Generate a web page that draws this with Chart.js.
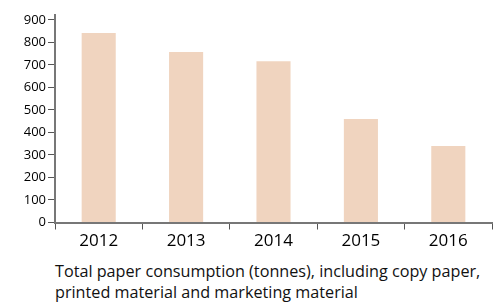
<!DOCTYPE html>
<html>
<head>
<meta charset="utf-8">
<script src="https://cdn.jsdelivr.net/npm/chart.js@4/dist/chart.umd.min.js"></script>
<style>
  body { margin: 0; background: #fff; }
  #wrap { position: relative; width: 494px; height: 304px; overflow: hidden; }
  #caption {
    position: absolute; left: 55px; top: 261px;
    font-family: "Open Sans", sans-serif; font-size: 16.2px; line-height: 21px; color: #111;
    white-space: nowrap;
  }
</style>
</head>
<body>
<div id="wrap">
  <canvas id="paperChart" width="494" height="252"></canvas>
  <div id="caption">Total paper consumption (tonnes), including copy paper,<br>printed material and marketing material</div>
</div>
<script>
const years = ['2012', '2013', '2014', '2015', '2016'];
const tonnes = [842, 758, 716, 460, 340];
const yTicks = [0, 100, 200, 300, 400, 500, 600, 700, 800, 900];

const ctx = document.getElementById('paperChart').getContext('2d');
const paperChart = new Chart(ctx, {
    type: 'bar',
    data: {
        labels: years,
        datasets: [{
            data: tonnes,
            backgroundColor: '#f0d4bf',
            categoryPercentage: 1,
            barPercentage: 0.39
        }]
    },
    options: {
        responsive: false,
        animation: false,
        layout: { padding: { top: 15, right: 2, left: 0, bottom: 0 } },
        plugins: { legend: { display: false }, tooltip: { enabled: false } },
        scales: {
            x: {
                grid: { drawOnChartArea: false, tickLength: 7, color: '#555', lineWidth: 1 },
                border: { color: '#777', width: 2 },
                ticks: { color: '#000', font: { family: 'Open Sans', size: 17 }, padding: 1 },
                afterFit: function(scale) { scale.height = 29.5; }
            },
            y: {
                min: 0,
                max: 922,
                afterBuildTicks: function(scale) {
                    scale.ticks = yTicks.map(v => ({ value: v }));
                },
                grid: { drawOnChartArea: false, tickLength: 7, color: '#555', lineWidth: 1 },
                border: { color: '#777', width: 2 },
                ticks: { color: '#000', font: { family: 'Open Sans', size: 13 }, padding: 2 },
                afterFit: function(scale) { scale.width = 55; }
            }
        }
    }
});
</script>
</body>
</html>
